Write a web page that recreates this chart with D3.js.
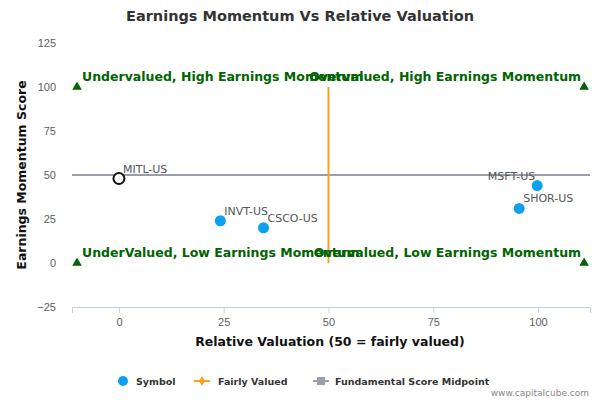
<!DOCTYPE html>
<html><head><meta charset="utf-8">
<script src="https://cdn.jsdelivr.net/npm/d3@7"></script>
<style>body{margin:0;background:#fff;font-family:"DejaVu Sans",sans-serif}</style>
</head><body><div id="chart"></div>
<script>
// symbols and their scores
const symbols = ["MITL-US", "INVT-US", "CSCO-US", "MSFT-US", "SHOR-US"];
const relValuation = [0, 24.2, 34.5, 99.8, 95.5];
const momentum = [48, 24, 20, 44, 31];
const xTicks = [0, 25, 50, 75, 100];
const yTicks = [-25, 0, 25, 50, 75, 100, 125];
const quadrantLabels = [
  { text: "Undervalued, High Earnings Momentum", x: -10, y: 100, side: "left" },
  { text: "Overvalued, High Earnings Momentum", x: 111, y: 100, side: "right" },
  { text: "UnderValued, Low Earnings Momentum", x: -10, y: 0, side: "left" },
  { text: "Overvalued, Low Earnings Momentum", x: 111, y: 0, side: "right" }
];

const width = 600, height = 400;
const margin = { left: 72, right: 10, top: 43, bottom: 93 };

const svg = d3.select("#chart").append("svg")
  .attr("width", width).attr("height", height);

const x = d3.scaleLinear().domain([-11.2, 112.4]).range([margin.left, width - margin.right]);
const y = d3.scaleLinear().domain([-25, 125]).range([height - margin.bottom, margin.top]);

svg.append("text").attr("x", 300).attr("y", 21).attr("text-anchor", "middle")
  .attr("font-size", 14.5).attr("font-weight", "bold").attr("fill", "#333")
  .text("Earnings Momentum Vs Relative Valuation");

// x axis
const xAxis = svg.append("g").attr("transform", `translate(0,${y(-25)})`)
  .call(d3.axisBottom(x).tickValues(xTicks).tickSize(6).tickPadding(5));
xAxis.select(".domain").attr("stroke", "#c0d0e0");
xAxis.selectAll(".tick line").attr("stroke", "#c0d0e0");
xAxis.selectAll("text").attr("font-size", 11).attr("fill", "#606060");

// y axis (labels only)
const yAxis = svg.append("g").attr("transform", `translate(${margin.left},0)`)
  .call(d3.axisLeft(y).tickValues(yTicks).tickSize(0).tickPadding(16));
yAxis.select(".domain").remove();
yAxis.selectAll("text").attr("font-size", 11).attr("fill", "#606060");

svg.append("text").attr("x", 330).attr("y", 346).attr("text-anchor", "middle")
  .attr("font-size", 12.5).attr("font-weight", "bold").attr("fill", "#111")
  .text("Relative Valuation (50 = fairly valued)");
svg.append("text").attr("transform", `translate(26,${y(50)}) rotate(-90)`)
  .attr("text-anchor", "middle").attr("font-size", 12.5).attr("font-weight", "bold").attr("fill", "#111")
  .text("Earnings Momentum Score");

// midpoint line and fair value line
svg.append("line").attr("x1", x(-11.2)).attr("x2", x(112.4)).attr("y1", y(50)).attr("y2", y(50))
  .attr("stroke", "#9a9ea8").attr("stroke-width", 2);
svg.append("line").attr("x1", x(50)).attr("x2", x(50)).attr("y1", y(0)).attr("y2", y(100))
  .attr("stroke", "#f7a21b").attr("stroke-width", 2);

// quadrant markers and labels
const tri = d3.symbol().type(d3.symbolTriangle).size(40);
quadrantLabels.forEach(q => {
  svg.append("path").attr("d", tri).attr("fill", "#006400")
    .attr("transform", `translate(${x(q.x)},${y(q.y)})`);
  svg.append("text")
    .attr("x", q.side === "left" ? x(q.x) + 5 : x(q.x) - 3)
    .attr("y", y(q.y) - 6)
    .attr("text-anchor", q.side === "left" ? "start" : "end")
    .attr("font-size", 12.5).attr("font-weight", "bold").attr("fill", "#006400")
    .text(q.text);
});

// points
symbols.forEach((s, i) => {
  const cx = x(relValuation[i]), cy = y(momentum[i]);
  if (i === 0) {
    svg.append("circle").attr("cx", cx).attr("cy", cy).attr("r", 5.5)
      .attr("fill", "#fff").attr("stroke", "#111").attr("stroke-width", 2);
  } else {
    svg.append("circle").attr("cx", cx).attr("cy", cy).attr("r", 5.5).attr("fill", "#0ca0f0");
  }
  const right = s === "MSFT-US";
  svg.append("text").attr("x", right ? cx - 2 : cx + 4).attr("y", cy - 6)
    .attr("text-anchor", right ? "end" : "start")
    .attr("font-size", 11).attr("fill", "#555").text(s);
});

// legend
const lg = svg.append("g").attr("font-size", 9.5).attr("font-weight", "bold").attr("fill", "#333");
lg.append("circle").attr("cx", 123).attr("cy", 381).attr("r", 5).attr("fill", "#0ca0f0");
lg.append("text").attr("x", 136).attr("y", 385).text("Symbol");
lg.append("line").attr("x1", 194).attr("x2", 210).attr("y1", 381).attr("y2", 381).attr("stroke", "#f7a21b").attr("stroke-width", 2);
lg.append("path").attr("d", d3.symbol().type(d3.symbolDiamond).size(30)).attr("fill", "#f7a21b").attr("transform", "translate(202,381)");
lg.append("text").attr("x", 218).attr("y", 385).text("Fairly Valued");
lg.append("line").attr("x1", 313).attr("x2", 329).attr("y1", 381).attr("y2", 381).attr("stroke", "#9a9ea8").attr("stroke-width", 2);
lg.append("rect").attr("x", 317).attr("y", 377).attr("width", 8).attr("height", 8).attr("fill", "#9a9ea8");
lg.append("text").attr("x", 335).attr("y", 385).text("Fundamental Score Midpoint");

svg.append("text").attr("x", 589).attr("y", 396).attr("text-anchor", "end")
  .attr("font-size", 9).attr("fill", "#888").text("www.capitalcube.com");
</script></body></html>
